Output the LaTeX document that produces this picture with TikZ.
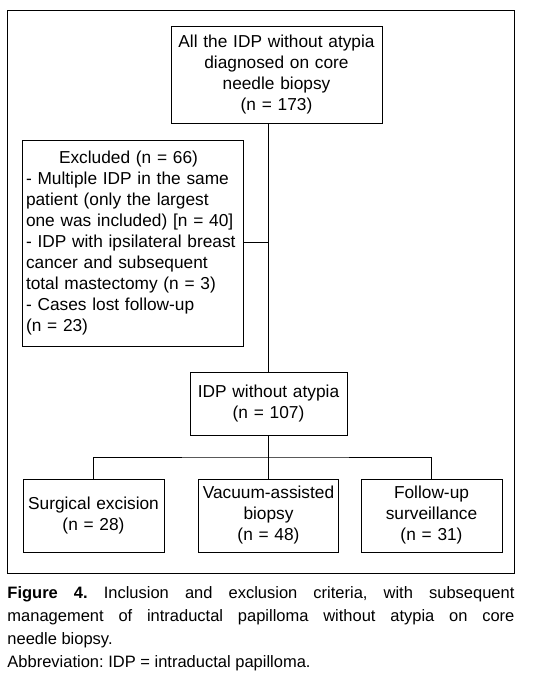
\documentclass[tikz,border=0pt]{standalone}
\usepackage{fontspec}
\setmainfont{Liberation Sans}
\begin{document}
\begin{tikzpicture}[x=1pt,y=-1pt,line width=0.9pt,
  box/.style={draw, inner sep=0pt, align=center, font=\fontsize{17.3}{21}\selectfont}]
\useasboundingbox (0,0) rectangle (545,684);
\draw (7,10) rectangle (514,573);
\node[box, minimum width=211pt, minimum height=97pt, text width=205pt] (top) at (276.5,74.5)
  {All the IDP without atypia\\diagnosed on core\\needle biopsy\\(n = 173)};
\node[box, align=left, minimum width=221pt, minimum height=206pt, text width=213pt] (excl) at (132.5,243)
  {\makebox[205pt]{Excluded (n = 66)}\\
   - Multiple IDP in the same\\patient (only the largest\\one was included) [n = 40]\\- IDP with ipsilateral breast\\cancer and subsequent\\total mastectomy (n = 3)\\- Cases lost follow-up\\(n = 23)};
\node[box, minimum width=157pt, minimum height=63pt, text width=150pt] (idp) at (268.5,403.5)
  {IDP without atypia\\(n = 107)};
\node[box, minimum width=141pt, minimum height=73pt, text width=137pt] (surg) at (93.5,515.5)
  {Surgical excision\\(n = 28)};
\node[box, minimum width=140pt, minimum height=73pt, text width=137pt] (vac) at (268.5,515.5)
  {Vacuum-assisted\\biopsy\\(n = 48)};
\node[box, minimum width=141pt, minimum height=73pt, text width=137pt] (foll) at (431.5,515.5)
  {Follow-up\\surveillance\\(n = 31)};
\coordinate (j) at (268.5,242);
\coordinate (bar) at (268.5,457);
\draw (idp.north |- top.south) -- (idp.north);
\draw (excl.east |- j) -- (j);
\draw (idp.south) -- (vac.north);
\draw (surg.north) |- (bar) -| (foll.north);
\node[anchor=north west, inner sep=0pt, text width=507pt, align=justify,
  font=\fontsize{16.5}{23}\selectfont] (cap) at (7,586.5)
  {\parindent=0pt\frenchspacing\textbf{Figure 4.} Inclusion and exclusion criteria, with subsequent\linebreak
   management of intraductal papilloma without atypia on core\linebreak
   needle biopsy.\par
   Abbreviation: IDP = intraductal papilloma.};
\end{tikzpicture}
\end{document}
